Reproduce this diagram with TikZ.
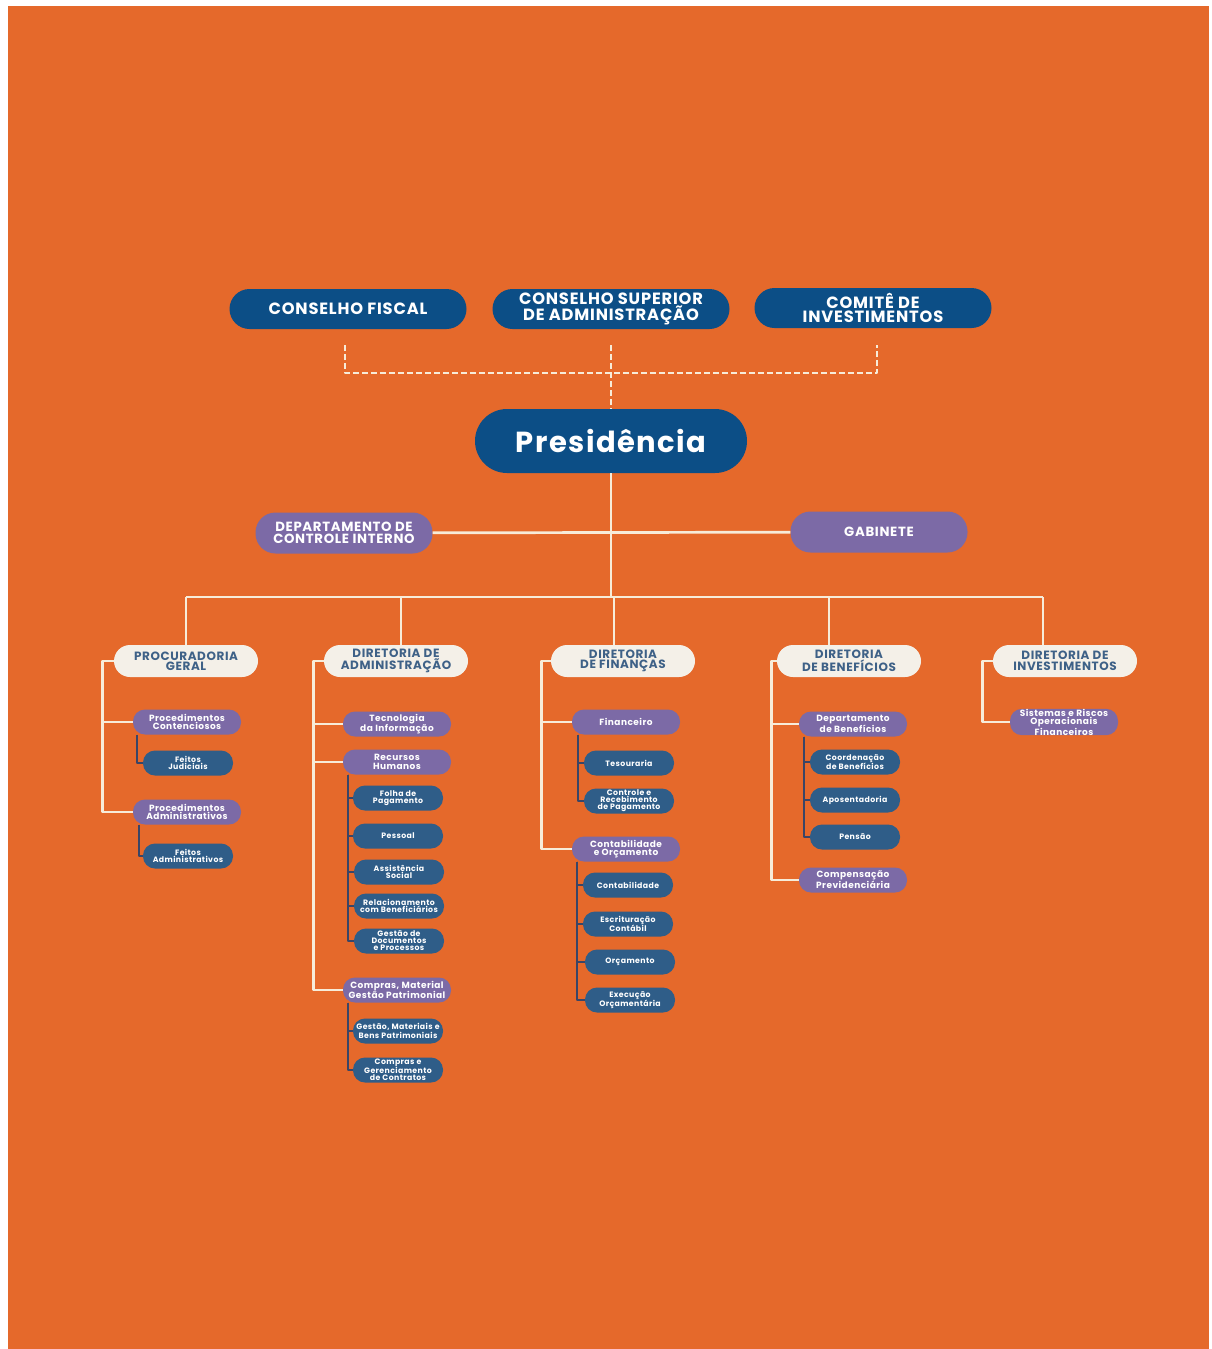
\documentclass[tikz,border=0pt]{standalone}
\usepackage{fontspec}
\setmainfont{Poppins}
\newfontfamily\esp{Poppins}[LetterSpace=5]
\definecolor{laranja}{HTML}{E5692B}
\definecolor{azulesc}{HTML}{0C4E86}
\definecolor{roxo}{HTML}{7C6AA6}
\definecolor{creme}{HTML}{F4F0E8}
\definecolor{textodir}{HTML}{3E6187}
\definecolor{azulsub}{HTML}{2F5D88}
\definecolor{linhaesc}{HTML}{3A4566}
\definecolor{linhacreme}{HTML}{F7ECD9}
\tikzset{
  conselho/.style={fill=azulesc, text=white, rounded corners=20pt, minimum width=237pt, minimum height=40pt, inner sep=0pt, align=center, font=\esp\bfseries\fontsize{16.3}{14.5}\selectfont},
  presid/.style={fill=azulesc, text=white, rounded corners=32pt, minimum width=272pt, minimum height=64pt, inner sep=0pt, font=\esp\bfseries\fontsize{29}{29}\selectfont},
  apoio/.style={fill=roxo, text=white, rounded corners=20pt, minimum width=177pt, minimum height=41pt, inner sep=0pt, align=center, font=\esp\bfseries\fontsize{13.3}{11.5}\selectfont},
  diretoria/.style={fill=creme, text=textodir, rounded corners=16pt, minimum width=144pt, minimum height=32pt, inner sep=0pt, align=center, font=\esp\bfseries\fontsize{12}{10.5}\selectfont},
  setor/.style={fill=roxo, text=white, rounded corners=12pt, minimum width=108pt, minimum height=25pt, inner sep=0pt, align=center, font=\esp\bfseries\fontsize{9}{8.5}\selectfont},
  unidade/.style={fill=azulsub, text=white, rounded corners=12pt, minimum width=90pt, minimum height=25pt, inner sep=0pt, align=center, font=\esp\bfseries\fontsize{7.8}{7}\selectfont},
  linha/.style={draw=linhacreme, line width=2.7pt},
  escuro/.style={draw=linhaesc, line width=2.4pt},
  tracejado/.style={draw=linhacreme, line width=2pt, dash pattern=on 6pt off 3pt}
}
\begin{document}
\begin{tikzpicture}[x=1pt, y=-1pt, line join=round, line cap=butt]
\useasboundingbox (0,0) rectangle (1211,1349);
\fill[white] (0,0) rectangle (1211,1349);
\fill[laranja] (8,6) rectangle (1209,1349);
% conselhos
\node[conselho] (fiscal) at (348,309) {CONSELHO FISCAL};
\node[conselho] (superior) at (611,309) {CONSELHO SUPERIOR\\DE ADMINISTRAÇÃO};
\node[conselho] (comite) at (873,308) {COMITÊ DE\\INVESTIMENTOS};
\node[presid] (pres) at (611,441) {Presidência};
\coordinate (cf) at (345,345); \coordinate (cs) at (611,345); \coordinate (ci) at (877,345);
\coordinate (barra) at (611,373);
\draw[tracejado] (cf) |- (barra) -| (ci);
\draw[tracejado] (cs) -- (pres.north);
% apoio
\node[apoio] (dci) at (344,533) {DEPARTAMENTO DE\\CONTROLE INTERNO};
\node[apoio] (gab) at (879,532) {GABINETE};
\coordinate (bus) at (614,597);
\draw[linha] (pres.south) -- (pres.south |- bus);
\draw[linha] (dci) -- (gab);
% diretorias
\node[diretoria] (pg) at (186,661) {PROCURADORIA\\GERAL};
\node[diretoria] (da) at (396,661) {DIRETORIA DE\\ADMINISTRAÇÃO};
\node[diretoria] (df) at (623,661) {DIRETORIA\\DE FINANÇAS};
\node[diretoria] (db) at (849,661) {DIRETORIA\\DE BENEFÍCIOS};
\node[diretoria] (di) at (1065,661) {DIRETORIA DE\\INVESTIMENTOS};
\coordinate (b1) at (186,597); \coordinate (b5) at (1043,597);
\draw[linha] (b1) -- (b5);
\foreach \d/\x in {pg/186,da/401,df/614,db/829,di/1043}
  \draw[linha] (\x,597) -- (\x,597 |- \d.north);
% procuradoria
\node[setor] (pc) at (187,722) {Procedimentos\\Contenciosos};
\node[unidade] (fj) at (188,763) {Feitos\\Judiciais};
\node[setor] (pa) at (187,812) {Procedimentos\\Administrativos};
\node[unidade] (fa) at (188,856) {Feitos\\Administrativos};
\draw[linha] (pg.west) -- ++(-11,0) |- (pa.west);
\draw[linha] (pg.west) ++(-11,0) |- (pc.west);
\draw[escuro] (pc.south west) ++(4,0) |- (fj.west);
\draw[escuro] (pa.south west) ++(6,0) |- (fa.west);
% administracao
\node[setor] (ti) at (397,724) {Tecnologia\\da Informação};
\node[setor] (rh) at (397,762) {Recursos\\Humanos};
\node[unidade] (fp) at (398,798) {Folha de\\Pagamento};
\node[unidade] (pe) at (398,836) {Pessoal};
\node[unidade] (as) at (399,872) {Assistência\\Social};
\node[unidade] (rb) at (399,906) {Relacionamento\\com Beneficiários};
\node[unidade] (gd) at (399,941) {Gestão de\\Documentos\\e Processos};
\node[setor] (cm) at (397,990) {Compras, Material\\Gestão Patrimonial};
\node[unidade] (gm) at (398,1031) {Gestão, Materiais e\\Bens Patrimoniais};
\node[unidade] (cg) at (398,1070) {Compras e\\Gerenciamento\\de Contratos};
\draw[linha] (da.west) -- ++(-10,0) |- (cm.west);
\foreach \n in {ti,rh} \draw[linha] (da.west) ++(-10,0) |- (\n.west);
\foreach \n in {fp,pe,as,rb,gd} \draw[escuro] (rh.south west) ++(5,0) |- (\n.west);
\foreach \n in {gm,cg} \draw[escuro] (cm.south west) ++(5,0) |- (\n.west);
% financas
\node[setor] (fin) at (626,722) {Financeiro};
\node[unidade] (tes) at (629,763) {Tesouraria};
\node[unidade] (crp) at (629,801) {Controle e\\Recebimento\\de Pagamento};
\node[setor] (co) at (626,849) {Contabilidade\\e Orçamento};
\node[unidade] (cont) at (628,885) {Contabilidade};
\node[unidade] (esc) at (628,924) {Escrituração\\Contábil};
\node[unidade] (orc) at (630,962) {Orçamento};
\node[unidade] (exe) at (630,1000) {Execução\\Orçamentária};
\draw[linha] (df.west) -- ++(-9,0) |- (co.west);
\draw[linha] (df.west) ++(-9,0) |- (fin.west);
\foreach \n in {tes,crp} \draw[escuro] (fin.south west) ++(6,0) |- (\n.west);
\foreach \n in {cont,esc,orc,exe} \draw[escuro] (co.south west) ++(5,0) |- (\n.west);
% beneficios
\node[setor] (dben) at (853,724) {Departamento\\de Benefícios};
\node[unidade] (cben) at (855,762) {Coordenação\\de Benefícios};
\node[unidade] (apo) at (855,800) {Aposentadoria};
\node[unidade] (pen) at (855,837) {Pensão};
\node[setor] (cp) at (853,880) {Compensação\\Previdenciária};
\draw[linha] (db.west) -- ++(-5,0) |- (cp.west);
\draw[linha] (db.west) ++(-5,0) |- (dben.west);
\foreach \n in {cben,apo,pen} \draw[escuro] (dben.south west) ++(5,0) |- (\n.west);
% investimentos
\node[setor] (sro) at (1064,722) {Sistemas e Riscos\\Operacionais\\Financeiros};
\draw[linha] (di.west) -- ++(-10,0) |- (sro.west);
\end{tikzpicture}
\end{document}
